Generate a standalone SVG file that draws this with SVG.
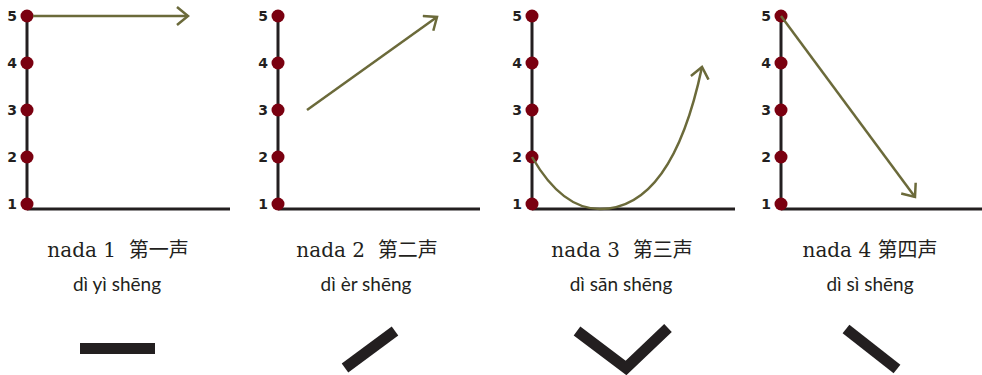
<svg xmlns="http://www.w3.org/2000/svg" width="982" height="375" viewBox="0 0 982 375">
<style>
.axis{stroke:#231f20;stroke-width:3;fill:none}
.dot{fill:#7a0010}
.num{font-family:"DejaVu Sans",sans-serif;font-weight:bold;font-size:14px;fill:#231f20;text-anchor:middle}
.arr{stroke:#6b6a3a;stroke-width:2.5;fill:none}
.t1{font-family:"DejaVu Serif","Noto Sans CJK SC",serif;font-size:20px;fill:#231f20;text-anchor:middle;white-space:pre}
.t2{font-family:Lato,"Noto Sans",sans-serif;font-size:19px;fill:#231f20;text-anchor:middle}
.mark{stroke:#231f20;stroke-width:11;fill:none}
</style>
<defs>
<marker id="ah" markerWidth="20" markerHeight="24" refX="12" refY="10" orient="auto" markerUnits="userSpaceOnUse">
<path d="M1,1 L12,10 L1,19" stroke="#6b6a3a" stroke-width="2.5" fill="none"/>
</marker>
<g id="scale">
<line class="axis" x1="0" y1="16" x2="0" y2="209"/>
<circle class="dot" cx="0" cy="16" r="6.5"/>
<circle class="dot" cx="0" cy="63" r="6.5"/>
<circle class="dot" cx="0" cy="110" r="6.5"/>
<circle class="dot" cx="0" cy="157" r="6.5"/>
<circle class="dot" cx="0" cy="204" r="6.5"/>
<text class="num" x="-15" y="21">5</text>
<text class="num" x="-15" y="68">4</text>
<text class="num" x="-15" y="115">3</text>
<text class="num" x="-15" y="162">2</text>
<text class="num" x="-15" y="209">1</text>
</g>
</defs>
<g id="tone1">
<line class="axis" x1="27" y1="209" x2="230" y2="209"/>
<use href="#scale" x="27"/>
<text class="t1" x="118" y="257" xml:space="preserve">nada 1  第一声</text>
<text class="t2" x="117" y="291">dì yì shēng</text>
<rect x="80" y="343" width="75" height="11" fill="#231f20"/>
</g>
<g id="tone2">
<line class="axis" x1="278" y1="209" x2="480" y2="209"/>
<use href="#scale" x="278"/>
<text class="t1" x="367" y="257" xml:space="preserve">nada 2  第二声</text>
<text class="t2" x="366" y="291">dì èr shēng</text>
<line class="mark" x1="345" y1="368" x2="395" y2="331"/>
</g>
<g id="tone3">
<line class="axis" x1="532" y1="209" x2="735" y2="209"/>
<use href="#scale" x="532"/>
<text class="t1" x="622" y="257" xml:space="preserve">nada 3  第三声</text>
<text class="t2" x="621" y="291">dì sān shēng</text>
<polyline class="mark" points="577,331 626,368 668,328"/>
</g>
<g id="tone4">
<line class="axis" x1="781" y1="209" x2="982" y2="209"/>
<use href="#scale" x="781"/>
<text class="t1" x="870" y="257">nada 4 第四声</text>
<text class="t2" x="870" y="291">dì sì shēng</text>
<line class="mark" x1="846" y1="329" x2="897" y2="369"/>
</g>
<g id="connectors">
<line class="arr" x1="33" y1="16" x2="188" y2="16" marker-end="url(#ah)"/>
<line class="arr" x1="307" y1="110" x2="437" y2="17" marker-end="url(#ah)"/>
<path class="arr" d="M532,157 Q562,209 600,209 Q672,209 702,67" marker-end="url(#ah)"/>
<line class="arr" x1="781" y1="16" x2="915" y2="197" marker-end="url(#ah)"/>
</g>
</svg>
